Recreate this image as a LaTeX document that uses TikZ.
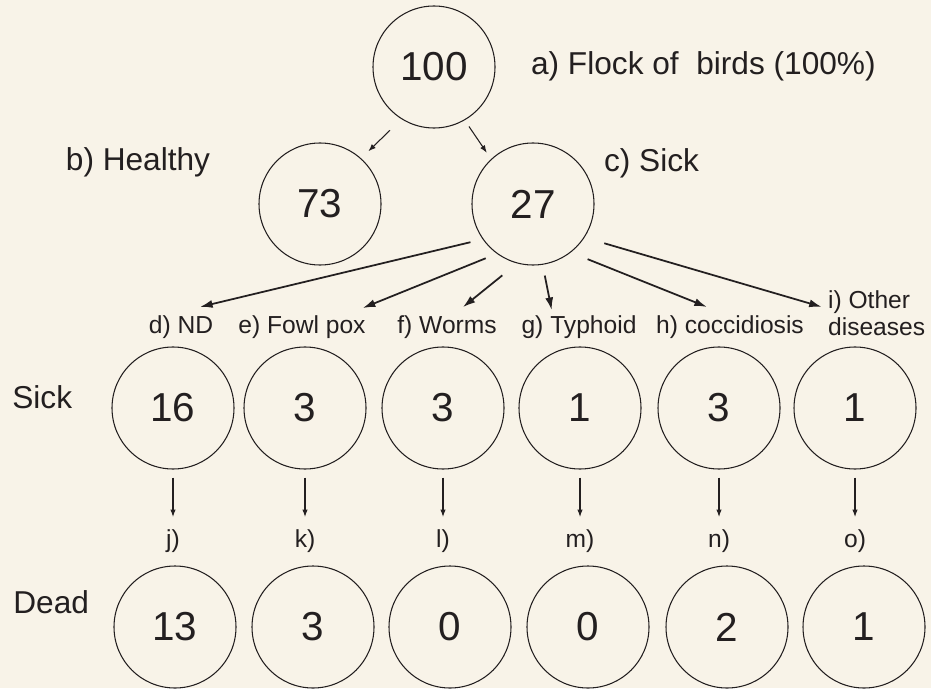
\documentclass[tikz,border=0pt]{standalone}
\usepackage{fontspec}
\setmainfont{Liberation Sans}
\definecolor{Cream}{HTML}{F8F3E8}
\definecolor{Ink}{HTML}{231F20}
\usetikzlibrary{arrows.meta,positioning}

\begin{document}
\begin{tikzpicture}[
    count/.style={circle, draw=Ink, line width=0.6pt, minimum size=2.44cm, inner sep=0pt, text=Ink, font=\fontsize{23}{27}\selectfont},
    tag/.style={text=Ink, inner sep=1pt, font=\fontsize{18}{21}\selectfont},
    kind/.style={text=Ink, inner sep=1pt, font=\fontsize{14}{15.3}\selectfont},
    fate/.style={text=Ink, inner sep=1pt, font=\fontsize{14}{16}\selectfont},
    arrow/.style={-{Latex[length=1.5mm,width=1.1mm]}, line width=0.6pt, Ink},
    boldarrow/.style={-{Latex[length=2.5mm,width=1.6mm]}, line width=1pt, Ink},
]
    \fill[Cream] (0,0) rectangle (18.62,13.76);
    \useasboundingbox (0,0) rectangle (18.62,13.76);

    % flock and first split
    \node[count] (flock) at (8.68,12.42) {100};
    \node[count] (healthy) at (6.40,9.68) {73};
    \node[count] (sick) at (10.66,9.68) {27};
    \node[tag, anchor=west] (flocktag) at (10.58,12.44) {a) Flock of\ \ birds (100\%)};
    \node[tag] (healthytag) at (2.76,10.52) {b) Healthy};
    \node[tag, anchor=west] (sicktag) at (12.04,10.50) {c) Sick};

    \draw[arrow, shorten <=0.32cm, shorten >=0.2cm] (flock.238) -- (healthy.48);
    \draw[arrow, shorten <=0.15cm, shorten >=0.15cm] (flock.300) -- (sick.133);

    % diseases
    \node[kind] (nd) at (3.62,7.22) {d) ND};
    \node[kind] (fowlpox) at (6.04,7.22) {e) Fowl pox};
    \node[kind] (worms) at (8.94,7.22) {f) Worms};
    \node[kind] (typhoid) at (11.58,7.22) {g) Typhoid};
    \node[kind] (cocci) at (14.60,7.22) {h) coccidiosis};
    \node[kind, anchor=west, align=left] (other) at (16.52,7.49) {i) Other\\diseases};

    \draw[boldarrow, shorten <=0.25cm, shorten >=0.56cm] (sick.215) -- (nd.121);
    \draw[boldarrow, shorten <=0.24cm, shorten >=0.29cm] (sick.234) -- (fowlpox.16);
    \draw[boldarrow, shorten <=0.38cm, shorten >=0.2cm] (sick.255) -- (worms.59);
    \draw[boldarrow, shorten <=0.22cm, shorten >=0.07cm] (sick.279) -- (typhoid.153);
    \draw[boldarrow, shorten <=0.36cm, shorten >=0.35cm] (sick.308) -- (cocci.117);
    \draw[boldarrow, shorten <=0.41cm, shorten >=0.09cm] (sick.327) -- (other.174);

    % sick row
    \node[tag, anchor=west, inner sep=0pt] (sickrow) at (0.24,5.82) {Sick};
    \node[count] (snd) at (3.46,5.60) {16};
    \node[count] (sfowlpox) at (6.10,5.60) {3};
    \node[count] (sworms) at (8.86,5.60) {3};
    \node[count] (styphoid) at (11.60,5.60) {1};
    \node[count] (scocci) at (14.38,5.60) {3};
    \node[count] (sother) at (17.10,5.60) {1};

    \node[fate, below=1.17cm of snd] (j) {j)};
    \node[fate, below=1.17cm of sfowlpox] (k) {k)};
    \node[fate, below=1.17cm of sworms] (l) {l)};
    \node[fate, below=1.17cm of styphoid] (m) {m)};
    \node[fate, below=1.17cm of scocci] (n) {n)};
    \node[fate, below=1.17cm of sother] (o) {o)};

    \draw[arrow, shorten <=0.16cm, shorten >=0.22cm] (snd) -- (j);
    \draw[arrow, shorten <=0.16cm, shorten >=0.22cm] (sfowlpox) -- (k);
    \draw[arrow, shorten <=0.16cm, shorten >=0.22cm] (sworms) -- (l);
    \draw[arrow, shorten <=0.16cm, shorten >=0.22cm] (styphoid) -- (m);
    \draw[arrow, shorten <=0.16cm, shorten >=0.22cm] (scocci) -- (n);
    \draw[arrow, shorten <=0.16cm, shorten >=0.22cm] (sother) -- (o);

    % dead row
    \node[tag, anchor=west, inner sep=0pt] (deadrow) at (0.26,1.72) {Dead};
    \node[count] (dnd) at (3.50,1.22) {13};
    \node[count] (dfowlpox) at (6.26,1.22) {3};
    \node[count] (dworms) at (9.00,1.22) {0};
    \node[count] (dtyphoid) at (11.76,1.22) {0};
    \node[count] (dcocci) at (14.54,1.22) {2};
    \node[count] (dother) at (17.28,1.22) {1};
\end{tikzpicture}
\end{document}
